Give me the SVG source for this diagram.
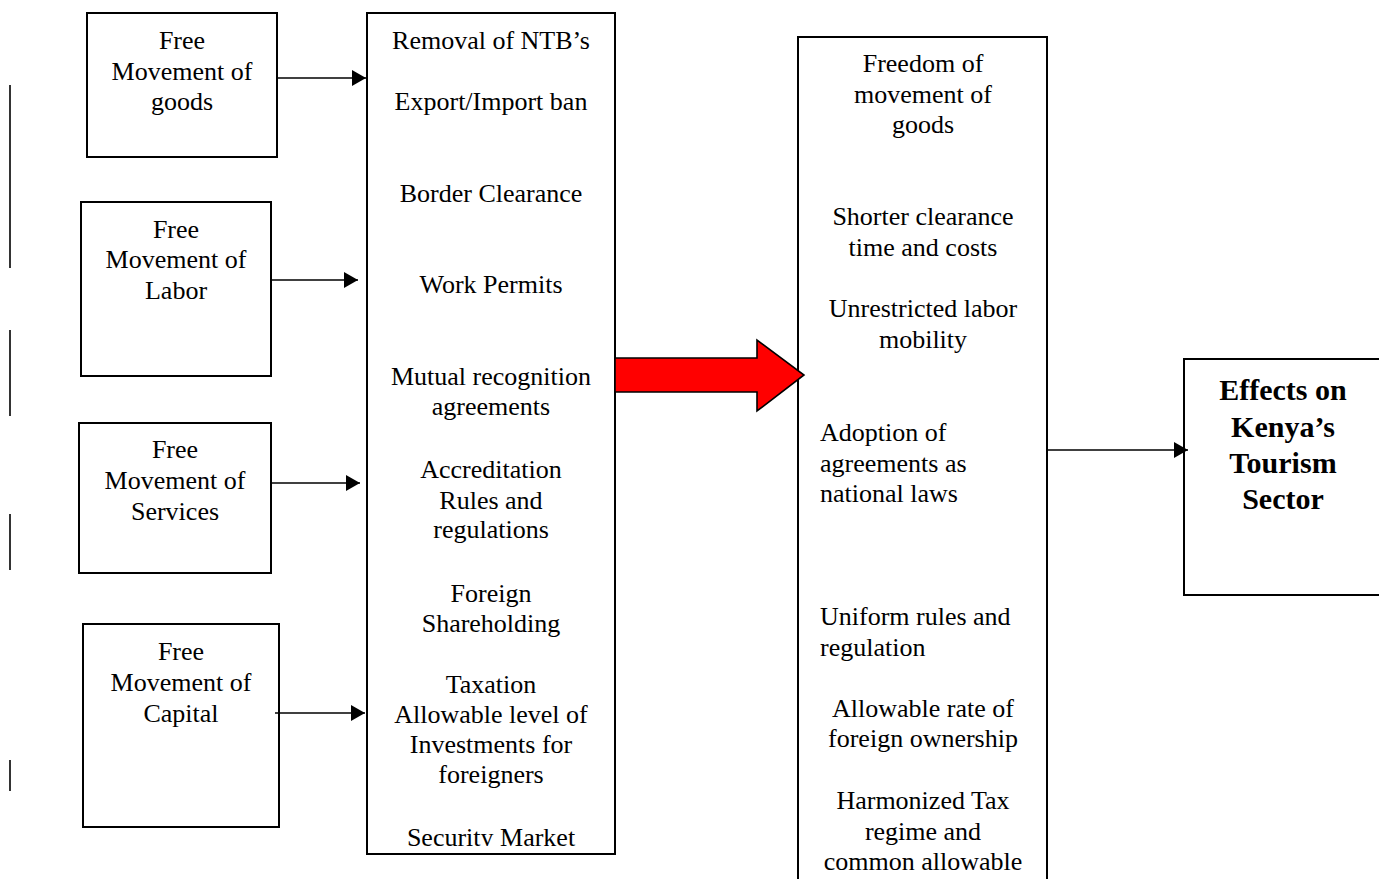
<svg xmlns="http://www.w3.org/2000/svg" width="1379" height="879" viewBox="0 0 1379 879">
<style>
.box{fill:#fff;stroke:#000;stroke-width:2}
.t{font-family:"Liberation Serif","Times New Roman",serif;font-size:26px;fill:#000}
.c{text-anchor:middle}
.b{font-family:"Liberation Serif","Times New Roman",serif;font-size:30px;font-weight:bold;fill:#000;text-anchor:middle}
.con{stroke:#000;stroke-width:1.6;fill:none}
.edge{stroke:#000;stroke-width:1.6}
</style>
<defs>
<marker id="ah" markerUnits="userSpaceOnUse" markerWidth="14" markerHeight="16" refX="14" refY="8" orient="auto">
<path d="M0,0 L14,8 L0,16 z" fill="#000"/>
</marker>
<clipPath id="midclip"><rect x="367" y="13" width="248" height="833"/></clipPath>
</defs>
<rect width="1379" height="879" fill="#fff"/>

<g id="margin-lines">
<line class="edge" x1="10" y1="85" x2="10" y2="268"/>
<line class="edge" x1="10" y1="330" x2="10" y2="416"/>
<line class="edge" x1="10" y1="514" x2="10" y2="570"/>
<line class="edge" x1="10" y1="760" x2="10" y2="791"/>
</g>

<g id="goods">
<rect class="box" x="87" y="13" width="190" height="144"/>
<text class="t c" x="182" y="49">Free</text>
<text class="t c" x="182" y="80">Movement of</text>
<text class="t c" x="182" y="110">goods</text>
</g>

<g id="labor">
<rect class="box" x="81" y="202" width="190" height="174"/>
<text class="t c" x="176" y="238">Free</text>
<text class="t c" x="176" y="268">Movement of</text>
<text class="t c" x="176" y="299">Labor</text>
</g>

<g id="services">
<rect class="box" x="79" y="423" width="192" height="150"/>
<text class="t c" x="175" y="458">Free</text>
<text class="t c" x="175" y="489">Movement of</text>
<text class="t c" x="175" y="520">Services</text>
</g>

<g id="capital">
<rect class="box" x="83" y="624" width="196" height="203"/>
<text class="t c" x="181" y="660">Free</text>
<text class="t c" x="181" y="691">Movement of</text>
<text class="t c" x="181" y="722">Capital</text>
</g>

<g id="instruments">
<rect class="box" x="367" y="13" width="248" height="841"/>
<g clip-path="url(#midclip)">
<text class="t c" x="491" y="49">Removal of NTB’s</text>
<text class="t c" x="491" y="110">Export/Import ban</text>
<text class="t c" x="491" y="202">Border Clearance</text>
<text class="t c" x="491" y="293">Work Permits</text>
<text class="t c" x="491" y="385">Mutual recognition</text>
<text class="t c" x="491" y="415">agreements</text>
<text class="t c" x="491" y="478">Accreditation</text>
<text class="t c" x="491" y="509">Rules and</text>
<text class="t c" x="491" y="538">regulations</text>
<text class="t c" x="491" y="602">Foreign</text>
<text class="t c" x="491" y="632">Shareholding</text>
<text class="t c" x="491" y="693">Taxation</text>
<text class="t c" x="491" y="723">Allowable level of</text>
<text class="t c" x="491" y="753">Investments for</text>
<text class="t c" x="491" y="783">foreigners</text>
<text class="t c" x="491" y="846">Security Market</text>
</g>
</g>

<g id="outcomes">
<path class="box" d="M798,890 L798,37 L1047,37 L1047,890"/>
<text class="t c" x="923" y="72">Freedom of</text>
<text class="t c" x="923" y="103">movement of</text>
<text class="t c" x="923" y="133">goods</text>
<text class="t c" x="923" y="225">Shorter clearance</text>
<text class="t c" x="923" y="256">time and costs</text>
<text class="t c" x="923" y="317">Unrestricted labor</text>
<text class="t c" x="923" y="348">mobility</text>
<text class="t" x="820" y="441">Adoption of</text>
<text class="t" x="820" y="472">agreements as</text>
<text class="t" x="820" y="502">national laws</text>
<text class="t" x="820" y="625">Uniform rules and</text>
<text class="t" x="820" y="656">regulation</text>
<text class="t c" x="923" y="717">Allowable rate of</text>
<text class="t c" x="923" y="747">foreign ownership</text>
<text class="t c" x="923" y="809">Harmonized Tax</text>
<text class="t c" x="923" y="840">regime and</text>
<text class="t c" x="923" y="870">common allowable</text>
</g>

<g id="effects">
<rect class="box" x="1184" y="359" width="210" height="236"/>
<text class="b" x="1283" y="400">Effects on</text>
<text class="b" x="1283" y="437">Kenya’s</text>
<text class="b" x="1283" y="473">Tourism</text>
<text class="b" x="1283" y="509">Sector</text>
</g>

<g id="connectors">
<line class="con" x1="277" y1="78" x2="366" y2="78" marker-end="url(#ah)"/>
<line class="con" x1="271" y1="280" x2="358" y2="280" marker-end="url(#ah)"/>
<line class="con" x1="272" y1="483" x2="360" y2="483" marker-end="url(#ah)"/>
<line class="con" x1="275" y1="713" x2="365" y2="713" marker-end="url(#ah)"/>
<line class="con" x1="1047" y1="450" x2="1188" y2="450" marker-end="url(#ah)"/>
<polygon points="615,358 757,358 757,340 804,375 757,411 757,392 615,392" fill="#ff0000" stroke="#000" stroke-width="1.6"/>
</g>
</svg>
